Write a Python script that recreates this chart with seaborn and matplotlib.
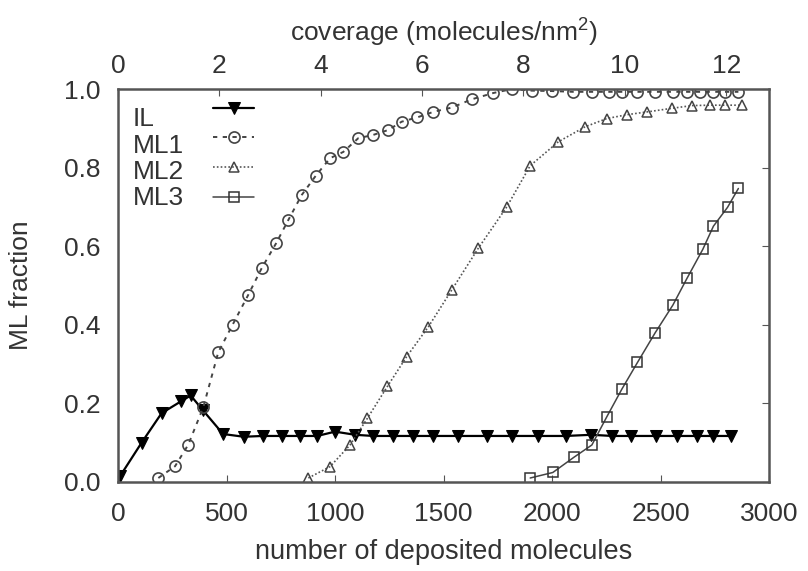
import matplotlib
matplotlib.use("Agg")
import matplotlib.pyplot as plt
import seaborn as sns
import pandas as pd

# ---- data ----
il_n = [10, 109, 201, 290, 335, 392, 484, 579, 667, 757, 837, 918, 1000, 1092, 1176,
        1265, 1361, 1453, 1568, 1699, 1814, 1933, 2062, 2181, 2277, 2365, 2477, 2574,
        2669, 2743, 2823]
il_v = [0.015, 0.10, 0.175, 0.205, 0.22, 0.182, 0.122, 0.115, 0.117, 0.117, 0.117, 0.117,
        0.128, 0.12, 0.117, 0.117, 0.117, 0.117, 0.117, 0.117, 0.117, 0.117, 0.117, 0.12,
        0.117, 0.117, 0.117, 0.117, 0.117, 0.117, 0.117]

ml1_n = [186, 263, 324, 393, 462, 528, 600, 662, 728, 785, 846, 912, 977, 1038, 1107,
         1174, 1246, 1307, 1379, 1453, 1538, 1630, 1729, 1814, 1906, 1998, 2098, 2183,
         2260, 2321, 2390, 2475, 2559, 2621, 2682, 2743, 2797, 2858]
ml1_v = [0.01, 0.04, 0.095, 0.19, 0.33, 0.40, 0.476, 0.544, 0.607, 0.667, 0.73, 0.78,
         0.824, 0.84, 0.875, 0.883, 0.896, 0.917, 0.928, 0.942, 0.953, 0.974, 0.99, 1.0,
         0.996, 0.995, 0.993, 0.993, 0.993, 0.993, 0.993, 0.993, 0.993, 0.993, 0.993,
         0.993, 0.993, 0.993]

ml2_n = [877, 977, 1069, 1149, 1241, 1330, 1430, 1538, 1660, 1791, 1899, 2029, 2152,
         2252, 2347, 2439, 2551, 2644, 2728, 2797, 2874]
ml2_v = [0.01, 0.039, 0.094, 0.162, 0.243, 0.319, 0.395, 0.489, 0.595, 0.70, 0.805,
         0.866, 0.904, 0.925, 0.935, 0.942, 0.951, 0.958, 0.959, 0.959, 0.959]

ml3_n = [1899, 2003, 2101, 2183, 2252, 2321, 2393, 2475, 2556, 2621, 2694, 2743, 2808, 2858]
ml3_v = [0.01, 0.024, 0.063, 0.094, 0.166, 0.236, 0.304, 0.38, 0.45, 0.518, 0.592,
         0.651, 0.699, 0.747]

series_names = ["IL", "ML1", "ML2", "ML3"]
x_ticks = [0, 500, 1000, 1500, 2000, 2500, 3000]
y_ticks = [0.0, 0.2, 0.4, 0.6, 0.8, 1.0]
cov_ticks = [0, 2, 4, 6, 8, 10, 12]
molecules_per_unit_coverage = 233.5

# ---- style ----
sns.set_style("white")
plt.rcParams["font.family"] = ["Liberation Sans", "DejaVu Sans"]
plt.rcParams["mathtext.fontset"] = "custom"
plt.rcParams["mathtext.rm"] = "Liberation Sans"

FS = 19
text_c = "#333333"
frame_c = "#555555"

fig = plt.figure(figsize=(8.08, 5.71), dpi=100)
ax = fig.add_axes([0.146, 0.156, 0.806, 0.688])

data = {
    "IL": (il_n, il_v),
    "ML1": (ml1_n, ml1_v),
    "ML2": (ml2_n, ml2_v),
    "ML3": (ml3_n, ml3_v),
}
styles = {
    "IL": dict(color="black", linestyle="-", linewidth=1.6, marker="v", markersize=8,
               markerfacecolor="black", markeredgecolor="black"),
    "ML1": dict(color="#444444", linestyle=(0, (2.2, 2.8)), linewidth=1.4, marker="o",
                markersize=8, markerfacecolor="none", markeredgecolor="#444444",
                markeredgewidth=1.2),
    "ML2": dict(color="#555555", linestyle=(0, (1, 1.3)), linewidth=1.2, marker="^",
                markersize=7.5, markerfacecolor="none", markeredgecolor="#444444",
                markeredgewidth=1.1),
    "ML3": dict(color="#444444", linestyle="-", linewidth=1.1, marker="s",
                markersize=7.5, markerfacecolor="none", markeredgecolor="#333333",
                markeredgewidth=1.1),
}

for name in series_names:
    xs, ys = data[name]
    df = pd.DataFrame({"n": xs, "v": ys})
    sns.lineplot(data=df, x="n", y="v", ax=ax, label=name, **styles[name])

ax.set_xlim(0, 3000)
ax.set_ylim(0, 1.0)
ax.set_xticks(x_ticks)
ax.set_yticks(y_ticks)
ax.set_yticklabels([f"{t:.1f}" for t in y_ticks])
ax.set_xlabel("number of deposited molecules", fontsize=FS + 0.5, color=text_c)
ax.set_ylabel("ML fraction", fontsize=FS, color=text_c)
ax.xaxis.set_label_coords(0.5, -0.145)
ax.yaxis.set_label_coords(-0.131, 0.5)
ax.tick_params(axis="both", direction="in", length=5, width=0.8, color=frame_c,
               labelsize=FS, labelcolor=text_c, right=True)
ax.tick_params(axis="x", pad=14.5)
ax.tick_params(axis="y", pad=12.5)
for s in ax.spines.values():
    s.set_color(frame_c)
    s.set_linewidth(1.8)

# top coverage axis
top = ax.twiny()
top.set_xlim(0, 3000 / molecules_per_unit_coverage)
top.set_xticks(cov_ticks)
top.tick_params(axis="x", direction="in", length=5, width=0.8, color=frame_c,
                labelsize=FS, labelcolor=text_c, pad=8)
top.set_xlabel("coverage (molecules/nm$^2$)", fontsize=FS, color=text_c)
top.xaxis.set_label_coords(0.5, 1.123)
for s in top.spines.values():
    s.set_visible(False)

# legend: gnuplot-style (left-aligned names, samples to the right)
handles, _ = ax.get_legend_handles_labels()
leg = ax.legend(handles, [" "] * len(handles), loc="upper left",
                bbox_to_anchor=(0.146, 0.977), frameon=False, fontsize=FS,
                handlelength=1.55, handletextpad=0.0, labelspacing=0.21,
                borderaxespad=0.0, borderpad=0.0)
row_y = [0.906, 0.838, 0.772, 0.706]
for name, yy in zip(series_names, row_y):
    ax.text(0.023, yy, name, transform=ax.transAxes, fontsize=FS, color=text_c,
            ha="left", va="baseline")

fig.savefig("out.png", dpi=100)
